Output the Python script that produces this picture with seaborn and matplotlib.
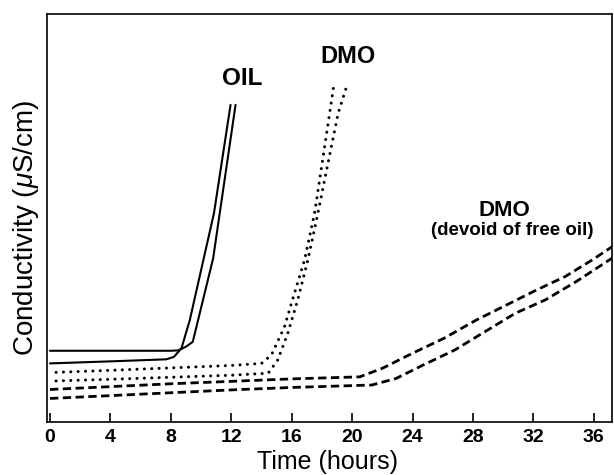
import numpy as np
import pandas as pd
import matplotlib
matplotlib.use("Agg")
import matplotlib.pyplot as plt
import seaborn as sns

# ---- data (hours, conductivity in arbitrary units) ----
oil_a_t = [0, 4, 8, 8.5, 9.0, 9.45, 10.8, 12.28]
oil_a_v = [17.4, 17.4, 17.4, 17.5, 18.4, 19.6, 40.1, 77.7]

oil_b_t = [0, 4, 7.7, 8.2, 8.7, 9.25, 10.85, 11.95]
oil_b_v = [14.3, 14.8, 15.3, 15.9, 18.0, 24.9, 51.1, 77.7]

dmo_a_t = [0.4, 4, 8, 12, 14.0, 14.66, 15.52, 16.18, 16.85, 17.51, 18.18, 18.82]
dmo_a_v = [12.1, 12.6, 13.2, 13.8, 14.3, 16.4, 23.3, 31.5, 39.7, 51.1, 67.5, 83.4]

dmo_b_t = [0.4, 4, 8, 12, 14.44, 15.07, 15.74, 16.4, 17.07, 17.73, 18.4, 19.07, 19.63]
dmo_b_v = [10.0, 10.4, 10.9, 11.4, 11.9, 15.1, 21.7, 29.9, 39.7, 51.1, 63.4, 75.6, 82.2]

free_a_t = [0, 4, 8, 12, 16, 20.5, 22.0, 24.0, 26.1, 28.2, 30.2, 32.2, 34.1, 35.9, 37.2]
free_a_v = [7.9, 8.6, 9.3, 9.9, 10.5, 11.0, 13.1, 16.8, 20.5, 24.9, 28.6, 32.3, 35.6, 39.7, 42.9]

free_b_t = [0, 4, 8, 12, 16, 21.3, 22.9, 24.7, 26.8, 28.8, 30.8, 32.8, 34.8, 37.2]
free_b_v = [5.7, 6.4, 7.1, 7.8, 8.4, 9.0, 10.6, 13.9, 17.6, 22.1, 26.6, 29.9, 34.3, 40.1]

x_ticks = [0, 4, 8, 12, 16, 20, 24, 28, 32, 36]

sns.set_theme(style="ticks")
plt.rcParams["font.family"] = ["Liberation Sans", "DejaVu Sans"]
plt.rcParams["mathtext.fontset"] = "custom"
plt.rcParams["mathtext.it"] = "Liberation Sans:italic"
plt.rcParams["mathtext.rm"] = "Liberation Sans"
plt.rcParams["text.color"] = "black"

fig = plt.figure(figsize=(6.14, 4.75), dpi=100)
ax = fig.add_axes([47 / 614, 1 - 421.7 / 475, 565 / 614, 407.7 / 475])

solid = dict(color="black", linewidth=1.5, linestyle="-")
dotted = dict(color="black", linewidth=2.2, linestyle=(0, (0.01, 2.4)),
              dash_capstyle="round")
dashed = dict(color="black", linewidth=2.0, linestyle=(0, (3.0, 1.6)),
              dash_capstyle="butt")

series = [
    (oil_a_t, oil_a_v, solid),
    (oil_b_t, oil_b_v, solid),
    (dmo_a_t, dmo_a_v, dotted),
    (dmo_b_t, dmo_b_v, dotted),
    (free_a_t, free_a_v, dashed),
    (free_b_t, free_b_v, dashed),
]
for t, v, style in series:
    df = pd.DataFrame({"t": t, "v": v})
    sns.lineplot(data=df, x="t", y="v", sort=False, estimator=None, ax=ax,
                 legend=False, **style)

ax.set_xlim(-0.2, 37.2)
ax.set_ylim(0, 100)
ax.set_xticks(x_ticks)
ax.set_xticklabels([str(x) for x in x_ticks], fontsize=14, fontweight="bold")
ax.set_yticks([])
ax.tick_params(axis="x", direction="in", length=6.5, width=1.2, pad=5,
               colors="black")
for s in ax.spines.values():
    s.set_linewidth(1.2)
    s.set_color("black")

ax.set_xlabel("Time (hours)", fontsize=18, color="black")
ax.xaxis.set_label_coords(0.497, -0.117)
ax.xaxis.label.set_va("baseline")

ax.set_ylabel(r"Conductivity ($\mathit{\mu}$S/cm)", fontsize=20, color="black")
ax.yaxis.set_label_coords(-0.037, 0.476)
ax.yaxis.label.set_va("center")

ax.text(0.345, 0.826, "OIL", transform=ax.transAxes, ha="center",
        va="baseline", fontsize=17.5, fontweight="bold", color="black")
ax.text(0.532, 0.879, "DMO", transform=ax.transAxes, ha="center",
        va="baseline", fontsize=17, fontweight="bold", color="black")
ax.text(0.809, 0.5045, "DMO", transform=ax.transAxes, ha="center",
        va="baseline", fontsize=16, fontweight="bold", color="black")
ax.text(0.823, 0.459, "(devoid of free oil)", transform=ax.transAxes,
        ha="center", va="baseline", fontsize=13.5, fontweight="bold",
        color="black")

fig.savefig("out.png", dpi=100)
